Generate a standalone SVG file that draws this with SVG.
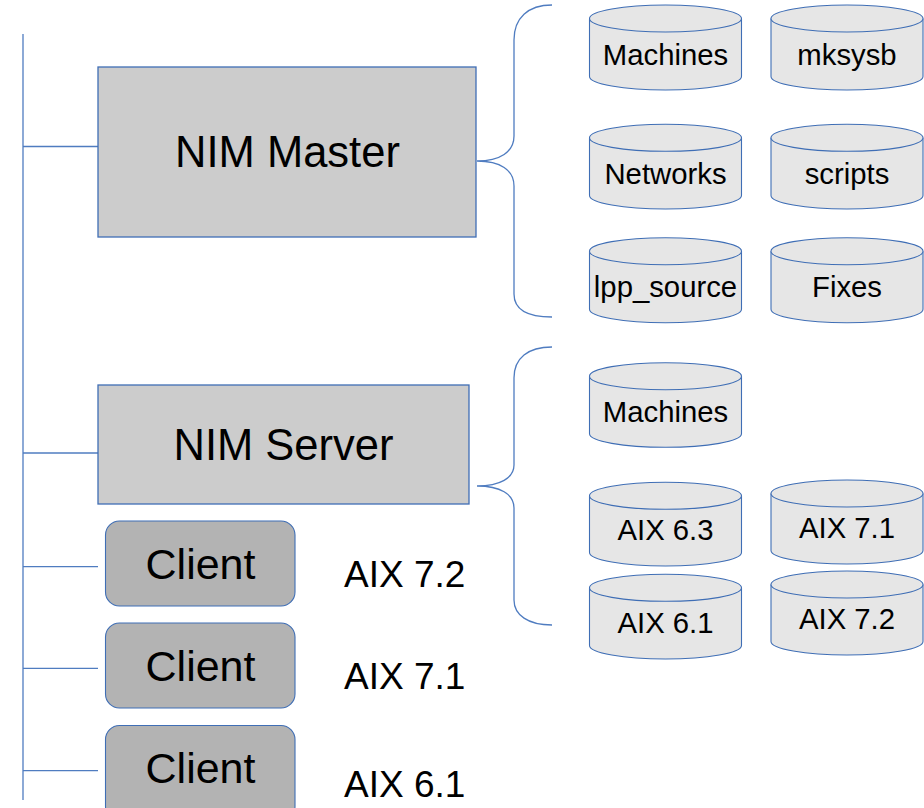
<svg xmlns="http://www.w3.org/2000/svg" width="924" height="808" viewBox="0 0 924 808">
<style>
.ln{stroke:#4f7cc0;stroke-width:1.3;fill:none}
.box{fill:#cccccc;stroke:#3f6eb5;stroke-width:1.3}
.cl{fill:#b3b3b3;stroke:#3f6eb5;stroke-width:1.1}
.cyl{fill:#e6e6e6;stroke:#3f6eb5;stroke-width:1.1}
.t{font-family:"Liberation Sans",Arial,sans-serif;fill:#000;text-anchor:middle}
.big{font-size:43.5px}
.cli{font-size:43px}
.aix{font-size:37px;text-anchor:start}
.db{font-size:29.3px}
</style>
<rect width="924" height="808" fill="#fff"/>
<g id="connectors">
<path class="ln" d="M23 34 V800"/>
<path class="ln" d="M23 146.5 H98"/>
<path class="ln" d="M23 453 H98"/>
<path class="ln" d="M23 566.7 H98"/>
<path class="ln" d="M23 668.3 H98"/>
<path class="ln" d="M23 770.7 H98"/>
<path class="ln" d="M552 5 C528 5 514 18 514 40 V136 C514 152 500 161 477 161 C500 161 514 170 514 186 V294 C514 310 528 317 552 317"/>
<path class="ln" d="M552 347 C528 347 514 358 514 378 V465 C514 478 500 486 477 486 C500 486 514 494 514 508 V600 C514 615 528 625 552 625"/>
</g>
<g id="nim-master">
<rect class="box" x="98" y="67" width="378" height="170"/>
<text class="t big" x="287.5" y="166.5">NIM Master</text>
</g>
<g id="nim-server">
<rect class="box" x="98" y="385" width="371" height="119"/>
<text class="t big" x="283.5" y="460">NIM Server</text>
</g>
<g id="client-1">
<rect class="cl" x="105.5" y="521" width="189.5" height="85" rx="14"/>
<text class="t cli" x="200.5" y="579">Client</text>
</g>
<text id="aix-72-label" class="t aix" x="344" y="587">AIX 7.2</text>
<g id="client-2">
<rect class="cl" x="105.5" y="623" width="189.5" height="85" rx="14"/>
<text class="t cli" x="200.5" y="681">Client</text>
</g>
<text id="aix-71-label" class="t aix" x="344" y="689">AIX 7.1</text>
<g id="client-3">
<rect class="cl" x="105.5" y="725.5" width="189.5" height="95" rx="14"/>
<text class="t cli" x="200.5" y="783">Client</text>
</g>
<text id="aix-61-label" class="t aix" x="344" y="797">AIX 6.1</text>

<g id="db-machines">
<path class="cyl" d="M589.5 18.5 V76.5 A76 13.5 0 0 0 741.5 76.5 V18.5"/>
<ellipse class="cyl" cx="665.5" cy="18.5" rx="76" ry="13.5"/>
<text class="t db" x="665.5" y="65">Machines</text>
</g>
<g id="db-mksysb">
<path class="cyl" d="M771 18.5 V76.5 A76 13.5 0 0 0 923 76.5 V18.5"/>
<ellipse class="cyl" cx="847" cy="18.5" rx="76" ry="13.5"/>
<text class="t db" x="847" y="65">mksysb</text>
</g>
<g id="db-networks">
<path class="cyl" d="M589.5 137.8 V195.5 A76 13.5 0 0 0 741.5 195.5 V137.8"/>
<ellipse class="cyl" cx="665.5" cy="137.8" rx="76" ry="13.5"/>
<text class="t db" x="665.5" y="184">Networks</text>
</g>
<g id="db-scripts">
<path class="cyl" d="M771 137.8 V195.5 A76 13.5 0 0 0 923 195.5 V137.8"/>
<ellipse class="cyl" cx="847" cy="137.8" rx="76" ry="13.5"/>
<text class="t db" x="847" y="184">scripts</text>
</g>
<g id="db-lpp-source">
<path class="cyl" d="M589.5 251.2 V309.2 A76 13.5 0 0 0 741.5 309.2 V251.2"/>
<ellipse class="cyl" cx="665.5" cy="251.2" rx="76" ry="13.5"/>
<text class="t db" x="665.5" y="296.7">lpp_source</text>
</g>
<g id="db-fixes">
<path class="cyl" d="M771 251.2 V309.2 A76 13.5 0 0 0 923 309.2 V251.2"/>
<ellipse class="cyl" cx="847" cy="251.2" rx="76" ry="13.5"/>
<text class="t db" x="847" y="296.7">Fixes</text>
</g>

<g id="db-server-machines">
<path class="cyl" d="M589.5 376.2 V433.8 A76 13.5 0 0 0 741.5 433.8 V376.2"/>
<ellipse class="cyl" cx="665.5" cy="376.2" rx="76" ry="13.5"/>
<text class="t db" x="665.5" y="421.7">Machines</text>
</g>
<g id="db-aix-63">
<path class="cyl" d="M589.5 495.8 V552.5 A76 13.5 0 0 0 741.5 552.5 V495.8"/>
<ellipse class="cyl" cx="665.5" cy="495.8" rx="76" ry="13.5"/>
<text class="t db" x="665.5" y="540">AIX 6.3</text>
</g>
<g id="db-aix-71">
<path class="cyl" d="M771 493.5 V550.5 A76 13.5 0 0 0 923 550.5 V493.5"/>
<ellipse class="cyl" cx="847" cy="493.5" rx="76" ry="13.5"/>
<text class="t db" x="847" y="538.3">AIX 7.1</text>
</g>
<g id="db-aix-61">
<path class="cyl" d="M589.5 587.8 V645.5 A76 13.5 0 0 0 741.5 645.5 V587.8"/>
<ellipse class="cyl" cx="665.5" cy="587.8" rx="76" ry="13.5"/>
<text class="t db" x="665.5" y="633.3">AIX 6.1</text>
</g>
<g id="db-aix-72">
<path class="cyl" d="M771 584.5 V641.5 A76 13.5 0 0 0 923 641.5 V584.5"/>
<ellipse class="cyl" cx="847" cy="584.5" rx="76" ry="13.5"/>
<text class="t db" x="847" y="629">AIX 7.2</text>
</g>
</svg>
